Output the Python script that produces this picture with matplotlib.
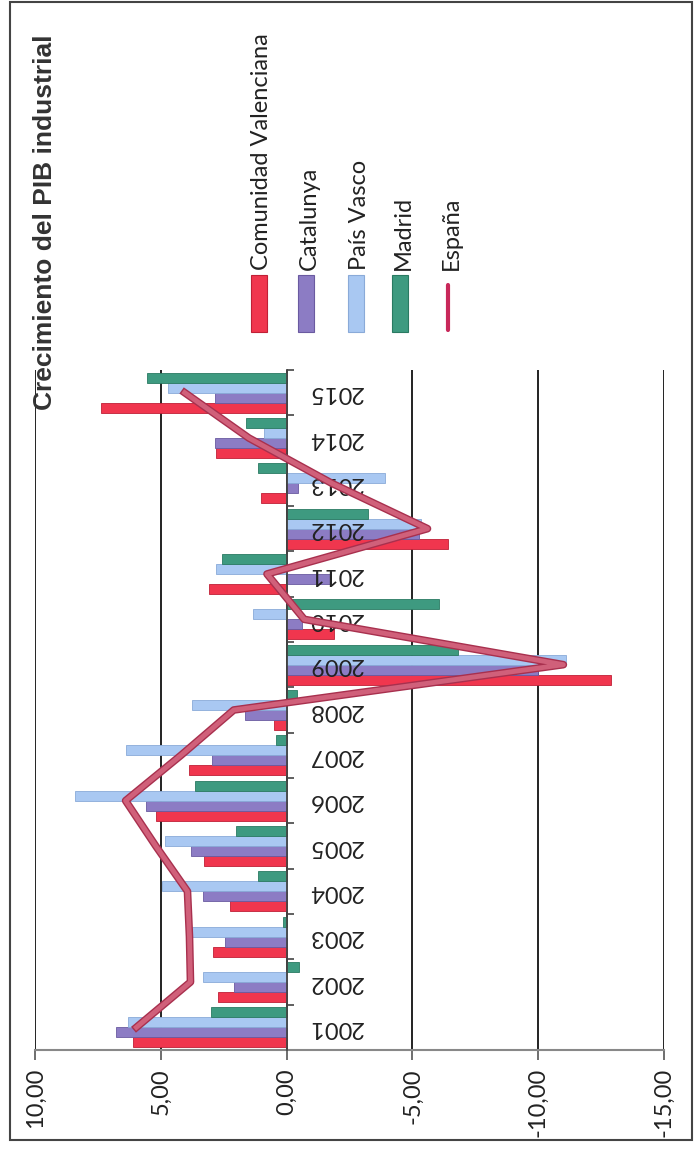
import matplotlib
matplotlib.use("Agg")
import matplotlib.pyplot as plt
import matplotlib.patheffects as pe
from matplotlib.patches import Rectangle
from matplotlib.lines import Line2D
import numpy as np

years = ["2001", "2002", "2003", "2004", "2005", "2006", "2007", "2008",
         "2009", "2010", "2011", "2012", "2013", "2014", "2015"]
series_names = ["Comunidad Valenciana", "Catalunya", "País Vasco", "Madrid"]
line_name = "España"
cv = [6.09, 2.72, 2.93, 2.23, 3.27, 5.21, 3.89, 0.5, -12.9, -1.9, 3.1, -6.4, 1.0, 2.8, 7.36]
cat = [6.77, 2.08, 2.45, 3.32, 3.81, 5.6, 2.98, 1.65, -10.0, -0.6, -1.75, -5.28, -0.45, 2.85, 2.85]
pv = [6.31, 3.32, 3.77, 4.96, 4.82, 8.43, 6.4, 3.75, -11.1, 1.32, 2.8, -5.35, -3.9, 0.88, 4.7]
mad = [3.01, -0.5, 0.14, 1.15, 2.0, 3.64, 0.42, -0.42, -6.8, -6.05, 2.55, -3.25, 1.15, 1.6, 5.55]
espana = [5.97, 3.82, 3.86, 3.94, 5.2, 6.4, 4.2, 2.1, -11.0, -0.7, 0.78, -5.6, -1.8, 1.5, 4.05]
value_ticks = [10, 5, 0, -5, -10, -15]
value_tick_labels = ["10,00", "5,00", "0,00", "-5,00", "-10,00", "-15,00"]
title = "Crecimiento del PIB industrial"

colors = ["#F0364E", "#8C7CC4", "#A9C8F2", "#3E9A80"]
edge_colors = ["#C02036", "#6A5AA0", "#8AAAD8", "#2A7A62"]
line_color = "#D0607A"

W, H = 694, 1167
fig = plt.figure(figsize=(W / 100, H / 100), dpi=100)
font = ["Lato", "DejaVu Sans"]

ax = fig.add_axes([35 / W, 117 / H, 629 / W, 680 / H])
y = np.arange(len(years))
h = 0.22
data = [cv, cat, pv, mad]
for k, (vals, c, ec) in enumerate(zip(data, colors, edge_colors)):
    ax.barh(y + (k - 1.5) * h, vals, height=h, color=c, edgecolor=ec,
            linewidth=0.6, zorder=3)

ax.plot(espana, y, color=line_color, linewidth=3.5, zorder=6,
        solid_joinstyle="round",
        path_effects=[pe.Stroke(linewidth=5.5, foreground="#A8304E",
                                joinstyle="round"), pe.Normal()])

ax.set_xlim(10, -15)
ax.set_ylim(-0.5, len(years) - 0.5)

ax.set_xticks(value_ticks)
ax.set_xticklabels(value_tick_labels, rotation=90, fontsize=17, family=font,
                   color="#222222")
ax.tick_params(axis="x", direction="out", length=7, width=1.2, color="#555555", pad=6)
ax.grid(axis="x", color="#111111", linewidth=1.3, zorder=1)
ax.set_axisbelow(True)

# category axis at zero with boundary tick marks pointing right
ax.yaxis.tick_right()
ax.spines["right"].set_position(("data", 0))
ax.spines["right"].set_color("#444444")
ax.spines["right"].set_linewidth(1.3)
ax.spines["right"].set_zorder(4)
ax.set_yticks([])
ax.set_yticks(np.arange(-0.5, len(years), 1.0), minor=True)
ax.tick_params(axis="y", which="minor", direction="out", length=5, width=1.2,
               color="#444444", right=True, left=False)
ax.spines["left"].set_visible(False)
ax.spines["top"].set_visible(False)
ax.spines["bottom"].set_color("#888888")
ax.spines["bottom"].set_linewidth(1.5)

# year labels drawn above the bars, rotated
for yi, lab in zip(y, years):
    ax.text(-0.85, yi, lab, rotation=180, ha="left", va="center", fontsize=17,
            family=font, color="#222222", zorder=5)

# title
fig.text(45 / W, 1 - 222 / H, title, rotation=90, ha="center", va="center",
         fontsize=19, fontweight="bold", family=["Liberation Sans", "DejaVu Sans"],
         color="#333333")

# manual legend (rotated entries)
leg_x = [259, 306, 356, 400]
for name, c, ec, lx in zip(series_names, colors, edge_colors, leg_x):
    fig.patches.append(Rectangle(((lx - 8) / W, 1 - 332 / H), 16 / W, 57 / H,
                                 transform=fig.transFigure, facecolor=c,
                                 edgecolor=ec, linewidth=0.8))
    fig.text((lx + 3) / W, 1 - 270 / H, name, rotation=90, ha="center", va="bottom",
             fontsize=17, family=font, color="#222222")
lx = 448
fig.lines.append(Line2D([lx / W, lx / W], [1 - 330 / H, 1 - 285 / H],
                        transform=fig.transFigure, color="#C8285A", linewidth=3,
                        solid_capstyle="round"))
fig.text((lx + 3) / W, 1 - 270 / H, line_name, rotation=90, ha="center", va="bottom",
         fontsize=17, family=font, color="#222222")

# outer frame
fig.patches.append(Rectangle((10 / W, 1 - 1140 / H), 682 / W, 1138 / H,
                             transform=fig.transFigure, facecolor="none",
                             edgecolor="#444444", linewidth=1.5))

fig.savefig("out.png", dpi=100)
